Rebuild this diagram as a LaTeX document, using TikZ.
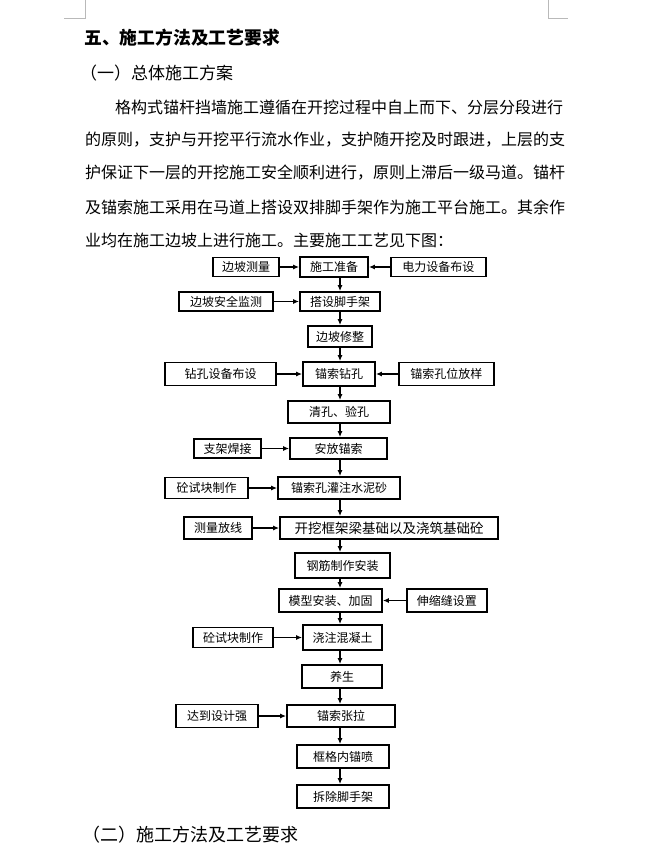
\documentclass[tikz,border=0pt]{standalone}
\usepackage{fontspec}
\setmainfont{Noto Sans CJK SC}
\usetikzlibrary{arrows.meta,positioning}

\begin{document}
\begin{tikzpicture}[x=1pt, y=-1pt, node distance=26pt,
  every node/.style={font=\fontsize{12pt}{14pt}\selectfont},
  box/.style={draw, line width=1.8pt, inner sep=1pt, align=center},
  sz/.style 2 args={minimum width=#1, minimum height=#2},
  arrow/.style={-{Latex[length=6pt,width=5pt]}, line width=1.4pt},
  body/.style={anchor=west, inner sep=0pt, font=\fontsize{16pt}{18pt}\selectfont},
  cropmark/.style={draw=gray!55, line width=0.8pt}]
\useasboundingbox (0,0) rectangle (656,843);

% page corners
\draw[cropmark] (64,18) -- (85,18) -- (85,0);
\draw[cropmark] (548,0) -- (548,18) -- (568,18);

% headings and text
\node[anchor=west, inner sep=0pt, font=\fontsize{17.8pt}{20pt}\selectfont\bfseries] (title) at (84,38) {五、施工方法及工艺要求};
\node[anchor=west, inner sep=0pt, font=\fontsize{17pt}{19pt}\selectfont] (sub1) at (80,73) {（一）总体施工方案};
\node[body] (line1) at (115,107) {格构式锚杆挡墙施工遵循在开挖过程中自上而下、分层分段进行};
\node[body] (line2) at (85,140) {的原则，支护与开挖平行流水作业，支护随开挖及时跟进，上层的支};
\node[body] (line3) at (85,173) {护保证下一层的开挖施工安全顺利进行，原则上滞后一级马道。锚杆};
\node[body] (line4) at (85,207) {及锚索施工采用在马道上搭设双排脚手架作为施工平台施工。其余作};
\node[body] (line5) at (85,240) {业均在施工边坡上进行施工。主要施工工艺见下图：};
\node[anchor=west, inner sep=0pt, font=\fontsize{18pt}{20pt}\selectfont] (sub2) at (82,835) {（二）施工方法及工艺要求};

% main steps
\coordinate (spine) at (340,0);
\node[box, sz={68pt}{20pt}] (prep) at (334,267) {施工准备};
\node[box, sz={80pt}{19pt}] (scaf) at (340,301.5) {搭设脚手架};
\node[box, sz={64pt}{21pt}] (trim) at (340,336.5) {边坡修整};
\node[box, sz={72pt}{24pt}] (drill) at (339,374) {锚索钻孔};
\node[box, sz={102pt}{22pt}] (clean) at (339,412) {清孔、验孔};
\node[box, sz={97pt}{21pt}] (place) at (338.5,448.5) {安放锚索};
\node[box, sz={122pt}{22pt}] (grout) at (339,488) {锚索孔灌注水泥砂};
\node[box, sz={218pt}{22pt}, font=\fontsize{13.5pt}{15pt}\selectfont] (found) at (389,528) {开挖框架梁基础以及浇筑基础砼};
\node[box, sz={95pt}{25pt}] (rebar) at (342.5,565.5) {钢筋制作安装};
\node[box, sz={103pt}{23pt}] (form) at (330.5,600.5) {模型安装、加固};
\node[box, sz={79pt}{25pt}] (pour) at (342.5,637.5) {浇注混凝土};
\node[box, sz={80pt}{23pt}] (cure) at (342,676.5) {养生};
\node[box, sz={108pt}{22pt}] (tension) at (341,716) {锚索张拉};
\node[box, sz={92pt}{23pt}] (spray) at (343,756.5) {框格内锚喷};
\node[box, sz={92pt}{23pt}] (dismantle) at (343,796.5) {拆除脚手架};

% side tasks
\node[box, sz={66pt}{19pt}, left=19pt of prep] (survey) {边坡测量};
\node[box, sz={95pt}{19pt}, right=21pt of prep] (power) {电力设备布设};
\node[box, sz={94pt}{19pt}, left=25pt of scaf] (monitor) {边坡安全监测};
\node[box, sz={111pt}{23pt}, left=25pt of drill] (rig) {钻孔设备布设};
\node[box, sz={95pt}{23pt}, right=22pt of drill] (locate) {锚索孔位放样};
\node[box, sz={67pt}{19pt}, left=27pt of place] (weld) {支架焊接};
\node[box, sz={83pt}{21pt}, left=28pt of grout] (cubeA) {砼试块制作};
\node[box, sz={68pt}{22pt}, left=26pt of found] (stakeout) {测量放线};
\node[box, sz={80pt}{23pt}, right=23pt of form] (joint) {伸缩缝设置};
\node[box, sz={80pt}{20pt}, left=28pt of pour] (cubeB) {砼试块制作};
\node[box, sz={82pt}{23pt}, left=27pt of tension] (strength) {达到设计强};

% flow
\draw[arrow] (prep.south -| spine) -- (scaf.north -| spine);
\draw[arrow] (scaf.south -| spine) -- (trim.north -| spine);
\draw[arrow] (trim.south -| spine) -- (drill.north -| spine);
\draw[arrow] (drill.south -| spine) -- (clean.north -| spine);
\draw[arrow] (clean.south -| spine) -- (place.north -| spine);
\draw[arrow] (place.south -| spine) -- (grout.north -| spine);
\draw[arrow] (grout.south -| spine) -- (found.north -| spine);
\draw[arrow] (found.south -| spine) -- (rebar.north -| spine);
\draw[arrow] (rebar.south -| spine) -- (form.north -| spine);
\draw[arrow] (form.south -| spine) -- (pour.north -| spine);
\draw[arrow] (pour.south -| spine) -- (cure.north -| spine);
\draw[arrow] (cure.south -| spine) -- (tension.north -| spine);
\draw[arrow] (tension.south -| spine) -- (spray.north -| spine);
\draw[arrow] (spray.south -| spine) -- (dismantle.north -| spine);

\draw[arrow] (survey) -- (prep);
\draw[arrow] (power) -- (prep);
\draw[arrow] (monitor) -- (scaf);
\draw[arrow] (rig) -- (drill);
\draw[arrow] (locate) -- (drill);
\draw[arrow] (weld) -- (place);
\draw[arrow] (cubeA) -- (grout);
\draw[arrow] (stakeout) -- (found);
\draw[arrow] (joint) -- (form);
\draw[arrow] (cubeB) -- (pour);
\draw[arrow] (strength) -- (tension);
\end{tikzpicture}
\end{document}
